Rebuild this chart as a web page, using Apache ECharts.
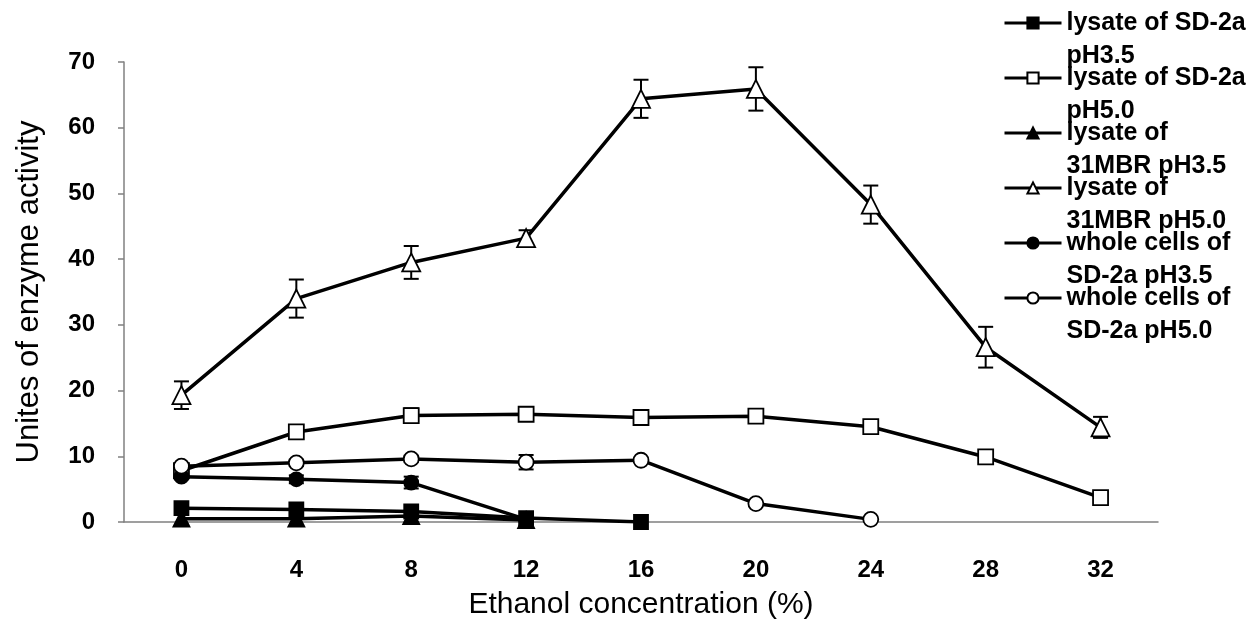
<!DOCTYPE html>
<html>
<head>
<meta charset="utf-8">
<style>
  html, body { margin: 0; padding: 0; background: #fff; }
  #chart { width: 1254px; height: 626px; }
</style>
<script src="https://cdn.jsdelivr.net/npm/echarts@6/dist/echarts.min.js"></script>
</head>
<body>
<div id="chart"></div>
<script>
// ---- data ----
const categories = ['0', '4', '8', '12', '16', '20', '24', '28', '32'];
const seriesNames = [
  'lysate of SD-2a\npH3.5',
  'lysate of SD-2a\npH5.0',
  'lysate of\n31MBR pH3.5',
  'lysate of\n31MBR pH5.0',
  'whole cells of\nSD-2a pH3.5',
  'whole cells of\nSD-2a pH5.0'
];
const lysSD35 = [2.1, 1.9, 1.6, 0.6, 0.0, null, null, null, null];
const lysSD50 = [7.8, 13.7, 16.2, 16.4, 15.9, 16.1, 14.5, 9.9, 3.7];
const lys31_35 = [0.5, 0.5, 0.9, 0.3, null, null, null, null, null];
const lys31_50 = [19.3, 34.0, 39.5, 43.2, 64.4, 65.9, 48.3, 26.6, 14.4];
const whSD35 = [6.9, 6.5, 6.0, 0.4, null, null, null, null, null];
const whSD50 = [8.5, 9.0, 9.6, 9.1, 9.4, 2.8, 0.4, null, null];

const errLysSD50 = [0, 0.4, 1.1, 0.5, 0.4, 0.9, 0.4, 0.3, 0.3];
const errLys31_50 = [2.1, 2.9, 2.5, 1.2, 2.9, 3.3, 2.9, 3.1, 1.6];
const errWhSD35 = [0.4, 0.6, 0.9, 0, 0, 0, 0, 0, 0];
const errWhSD50 = [0, 0.5, 0.5, 1.1, 0, 0, 0, 0, 0];

const yTicks = { min: 0, max: 70, interval: 10 };

// ---- build options ----
const FONT = "'Liberation Sans', Arial, sans-serif";

function errData(vals, errs) {
  const out = [];
  vals.forEach((v, i) => {
    if (v != null && errs[i] > 0) out.push([i, v, errs[i]]);
  });
  return out;
}

function errSeries(vals, errs) {
  return {
    type: 'custom',
    silent: true,
    z: 1,
    data: errData(vals, errs),
    renderItem: function (params, api) {
      const x = api.value(0), y = api.value(1), e = api.value(2);
      const top = api.coord([x, y + e]);
      const bot = api.coord([x, y - e]);
      const hw = 7.5;
      const st = { stroke: '#000', lineWidth: 2 };
      return {
        type: 'group',
        children: [
          { type: 'line', shape: { x1: top[0], y1: top[1], x2: bot[0], y2: bot[1] }, style: st },
          { type: 'line', shape: { x1: top[0] - hw, y1: top[1], x2: top[0] + hw, y2: top[1] }, style: st },
          { type: 'line', shape: { x1: bot[0] - hw, y1: bot[1], x2: bot[0] + hw, y2: bot[1] }, style: st }
        ]
      };
    }
  };
}

function lineSeries(name, data, symbol, size, filled) {
  return {
    name: name,
    type: 'line',
    data: data,
    z: 3,
    symbol: symbol,
    symbolSize: size,
    showAllSymbol: true,
    lineStyle: { color: '#000', width: 3.5 },
    itemStyle: { color: filled ? '#000' : '#fff', borderColor: '#000', borderWidth: 1.8 },
    emphasis: { disabled: true },
    animation: false
  };
}

const option = {
  animation: false,
  backgroundColor: '#fff',
  grid: { left: 124, right: 96, top: 62, bottom: 104, containLabel: false },
  legend: {
    orient: 'vertical',
    left: 1003,
    top: -26.5,
    padding: 0,
    itemWidth: 57,
    itemHeight: 14,
    itemGap: -44,
    selectedMode: false,
    lineStyle: { width: 3 },
    formatter: function (name) { return '\n' + name; },
    textStyle: {
      fontFamily: FONT,
      fontSize: 25,
      fontWeight: 'bold',
      color: '#000',
      lineHeight: 33
    },
    data: seriesNames
  },
  xAxis: {
    type: 'category',
    data: categories,
    boundaryGap: true,
    name: 'Ethanol concentration (%)',
    nameLocation: 'middle',
    nameGap: 68,
    nameTextStyle: { fontFamily: FONT, fontSize: 30, color: '#000' },
    axisLine: { lineStyle: { color: '#808080', width: 1.5 } },
    axisTick: { inside: true, length: 6, interval: 0, lineStyle: { color: '#808080', width: 1.5 } },
    axisLabel: { margin: 36, interval: 0, fontFamily: FONT, fontSize: 24, fontWeight: 'bold', color: '#000' },
    splitLine: { show: false }
  },
  yAxis: {
    type: 'value',
    min: yTicks.min,
    max: yTicks.max,
    interval: yTicks.interval,
    name: 'Unites of enzyme activity',
    nameLocation: 'middle',
    nameGap: 79,
    nameTextStyle: { fontFamily: FONT, fontSize: 31, color: '#000' },
    axisLine: { show: true, lineStyle: { color: '#808080', width: 1.5 } },
    axisTick: { show: true, inside: false, length: 6, lineStyle: { color: '#808080', width: 1.5 } },
    axisLabel: { margin: 29, fontFamily: FONT, fontSize: 24, fontWeight: 'bold', color: '#000' },
    splitLine: { show: false }
  },
  series: [
    errSeries(lys31_50, errLys31_50),
    errSeries(lysSD50, errLysSD50),
    errSeries(whSD35, errWhSD35),
    errSeries(whSD50, errWhSD50),
    lineSeries(seriesNames[0], lysSD35, 'rect', 14, true),
    lineSeries(seriesNames[1], lysSD50, 'rect', 15, false),
    lineSeries(seriesNames[2], lys31_35, 'triangle', 16, true),
    lineSeries(seriesNames[3], lys31_50, 'triangle', 18, false),
    lineSeries(seriesNames[4], whSD35, 'circle', 14, true),
    lineSeries(seriesNames[5], whSD50, 'circle', 15, false)
  ]
};

const chart = echarts.init(document.getElementById('chart'), null, { renderer: 'canvas' });
chart.setOption(option);
</script>
</body>
</html>
